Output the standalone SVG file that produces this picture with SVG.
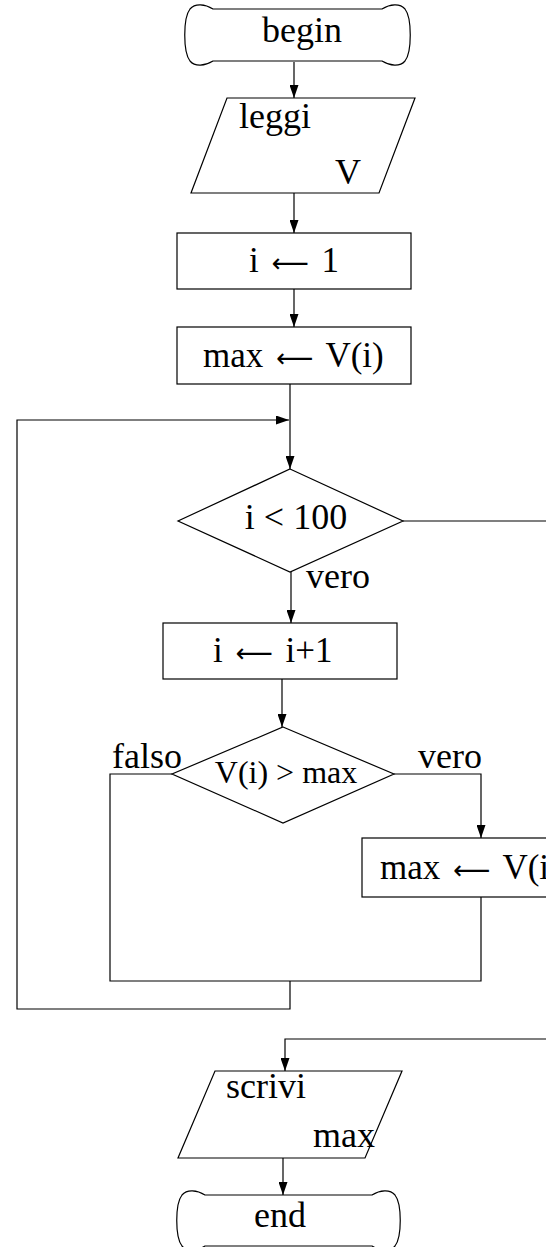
<svg xmlns="http://www.w3.org/2000/svg" width="546" height="1247" viewBox="0 0 546 1247">
<style>
.shape{fill:#fff;stroke:#000;stroke-width:1.2}
.line{fill:none;stroke:#000;stroke-width:1.2}
.t{font-family:"Liberation Serif","Times New Roman",serif;font-size:36px;fill:#000}
.cm{font-family:"Liberation Serif","DejaVu Serif",serif;font-size:35px;fill:#000;word-spacing:4px}
.ar{font-family:"DejaVu Sans",sans-serif;font-size:26px}
.mid{text-anchor:middle}
</style>
<defs>
<marker id="arr" markerUnits="userSpaceOnUse" markerWidth="13" markerHeight="9" refX="13" refY="4.5" orient="auto">
<path d="M0,0 L13,4.5 L0,9 Z" fill="#000"/>
</marker>
</defs>
<rect width="546" height="1247" fill="#fff"/>
<g id="connectors">
<path class="line" d="M294,62 L294,98" marker-end="url(#arr)"/>
<path class="line" d="M294,193 L294,233" marker-end="url(#arr)"/>
<path class="line" d="M294,289 L294,327" marker-end="url(#arr)"/>
<path class="line" d="M290,384 L290,469" marker-end="url(#arr)"/>
<path class="line" d="M403,521 L546,521"/>
<path class="line" d="M291,572 L291,623" marker-end="url(#arr)"/>
<path class="line" d="M282,679 L282,727" marker-end="url(#arr)"/>
<path class="line" d="M394,774 L481,774 L481,838" marker-end="url(#arr)"/>
<path class="line" d="M172,774 L110,774 L110,981 L481,981 L481,897"/>
<path class="line" d="M290,981 L290,1009 L17,1009 L17,420 L289,420" marker-end="url(#arr)"/>
<path class="line" d="M546,1039 L285,1039 L285,1071" marker-end="url(#arr)"/>
<path class="line" d="M283,1158 L283,1195" marker-end="url(#arr)"/>
<text class="t" x="306" y="588">vero</text>
<text class="t" x="112" y="768">falso</text>
<text class="t" x="418" y="768">vero</text>
</g>
<g id="begin">
<path class="shape" d="M213,9 L382,9 C390,4 400,3 405,9 C412,18 412,52 405,61 C400,67 390,66 382,61 L213,61 C205,66 195,67 190,61 C183,52 183,18 190,9 C195,3 205,4 213,9 Z"/>
<text class="t mid" x="302" y="42">begin</text>
</g>
<g id="leggi">
<polygon class="shape" points="227,98 415,98 379,193 191,193"/>
<text class="t" x="239" y="128">leggi</text>
<text class="t" x="335" y="184">V</text>
</g>
<g id="init-i">
<rect class="shape" x="177" y="233" width="234" height="56"/>
<text class="cm" x="249" y="272">i <tspan class="ar">⟵</tspan> 1</text>
</g>
<g id="init-max">
<rect class="shape" x="177" y="327" width="234" height="57"/>
<text class="cm" x="203" y="367">max <tspan class="ar">⟵</tspan> V(i)</text>
</g>
<g id="cond-i">
<polygon class="shape" points="290,469 403,521 290,572 178,521"/>
<text class="t mid" x="296" y="529">i &lt; 100</text>
</g>
<g id="incr-i">
<rect class="shape" x="163" y="623" width="234" height="56"/>
<text class="cm" x="213" y="662">i <tspan class="ar">⟵</tspan> i+1</text>
</g>
<g id="cond-max">
<polygon class="shape" points="283,727 394,774 283,823 172,774"/>
<text class="t mid" x="286" y="783" style="font-size:32px">V(i) &gt; max</text>
</g>
<g id="update-max">
<rect class="shape" x="362" y="838" width="236" height="59"/>
<text class="cm" x="380" y="879">max <tspan class="ar">⟵</tspan> V(i)</text>
</g>
<g id="scrivi">
<polygon class="shape" points="215,1071 402,1071 365,1158 178,1158"/>
<text class="t" x="226" y="1098">scrivi</text>
<text class="t" x="313" y="1147">max</text>
</g>
<g id="end">
<path class="shape" d="M205,1195 L372,1195 C380,1190 390,1189 395,1195 C402,1204 402,1237 395,1246 C390,1252 380,1251 372,1246 L205,1246 C197,1251 187,1252 182,1246 C175,1237 175,1204 182,1195 C187,1189 197,1190 205,1195 Z"/>
<text class="t mid" x="280" y="1227">end</text>
</g>
</svg>
